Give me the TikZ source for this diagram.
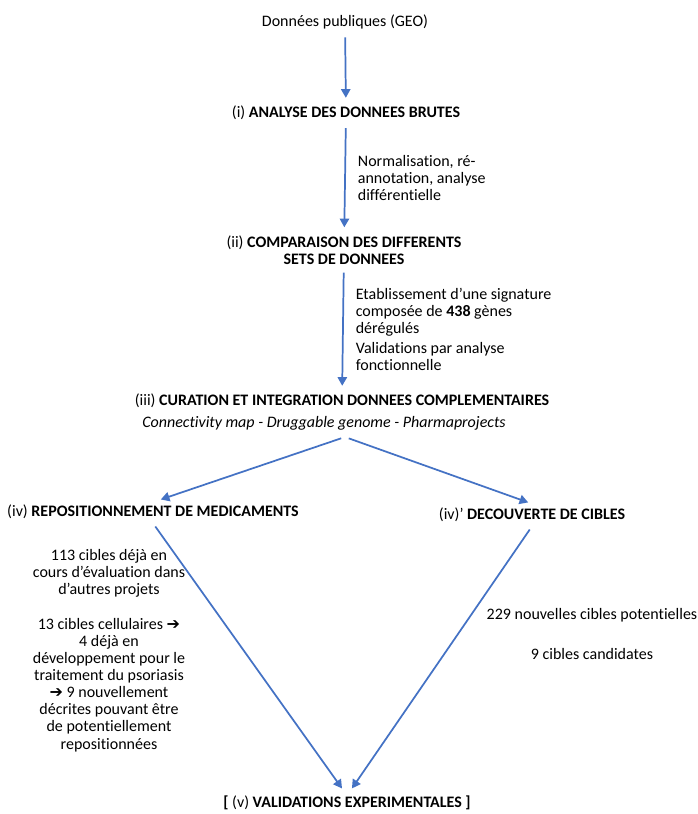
\documentclass[tikz,border=0pt]{standalone}
\usepackage{fontspec}
\setmainfont{Carlito}[Ligatures=NoCommon]
\newfontfamily\symfont{DejaVu Sans}
\usepackage{xcolor}
\usepackage{tikz}
\usetikzlibrary{shapes,arrows,arrows.meta,positioning,fit}
\definecolor{flowblue}{RGB}{68,114,196}

\begin{document}
\begin{tikzpicture}[x=0.75pt,y=-0.75pt,>={Triangle[length=6.5pt,width=7pt]},every node/.style={align=center,inner sep=3pt,font=\fontsize{12}{12.8}\selectfont},
  link/.style={->,color=flowblue,line width=1.3pt,shorten <=3pt,shorten >=3pt}]
\useasboundingbox (0,0) rectangle (697,814);
\node (geo) at (345,22) {Donn\'ees publiques (GEO)};
\node (ana) at (346,113) {(i) \textbf{ANALYSE DES DONNEES BRUTES}};
\node (comp) at (344,250) {(ii) \textbf{COMPARAISON DES DIFFERENTS}\\\textbf{SETS DE DONNEES}};
\node (cur) at (342,401) {(iii) \textbf{CURATION ET INTEGRATION DONNEES COMPLEMENTAIRES}};
\node (db) at (324,423) {\itshape Connectivity map - Druggable genome - Pharmaprojects};
\coordinate (split) at (345,437);
\node (repo) at (153,512) {(iv) \textbf{REPOSITIONNEMENT DE MEDICAMENTS}};
\node (disc) at (532,515) {(iv)’ \textbf{DECOUVERTE DE CIBLES}};
\node (valid) at (347,803) {\textbf{[} (v) \textbf{VALIDATIONS EXPERIMENTALES ]}};
% resultats
\node (eval) at (109,573) {113 cibles d\'ej\`a en\\cours d’\'evaluation dans\\d’autres projets};
\node (cell) at (109,685) {13 cibles cellulaires {\symfont\bfseries ➔}\\4 d\'ej\`a en\\d\'eveloppement pour le\\traitement du psoriasis\\{\symfont\bfseries ➔} 9 nouvellement\\d\'ecrites pouvant \^etre\\de potentiellement\\repositionn\'ees};
\node (pot) at (592,615) {229 nouvelles cibles potentielles};
\node (cand) at (592,654) {9 cibles candidates};

\path[link] (geo) edge (ana)
            (ana) edge node [right,xshift=6pt,align=left,color=black] {Normalisation, r\'e-\\annotation, analyse\\diff\'erentielle} (comp)
            (comp) edge node [right,xshift=6pt,align=left,color=black] {Etablissement d’une signature\\compos\'ee de \textbf{438} g\`enes\\d\'er\'egul\'es\\[2pt]Validations par analyse\\fonctionnelle} (cur)
            (split) edge ([xshift=3pt]repo.north)
            (split) edge (disc.north)
            (repo.south) edge ([xshift=-2pt]valid.north)
            (disc.south) edge ([xshift=2pt]valid.north);
\end{tikzpicture}
\end{document}
